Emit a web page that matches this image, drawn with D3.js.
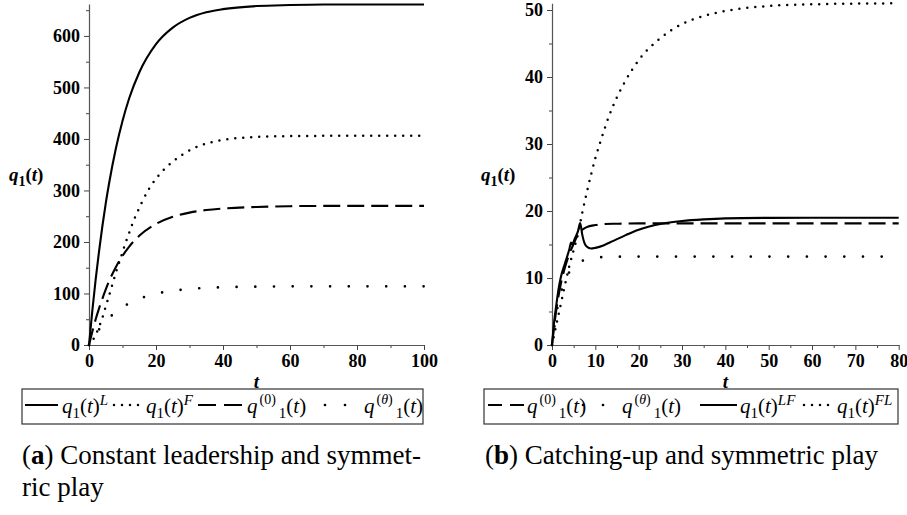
<!DOCTYPE html>
<html>
<head>
<meta charset="utf-8">
<script src="https://cdn.jsdelivr.net/npm/d3@7"></script>
<style>
  html, body { margin: 0; padding: 0; background: #fff; }
  svg { display: block; }
</style>
</head>
<body>
<svg id="chart" width="907" height="515"></svg>
<script>
// ---------- Panel (a) data: constant leadership and symmetric play ----------
const tA = [0,1,2,3,4,5,6,8,10,12,15,20,25,30,35,40,50,60,70,80,90,100];
const qL_A = [0,67,128,182,231,275,314,381,435,479,529,584,616,635,646,652,658,660,661,661,661,661];
const q0_A = [0,26,50,71,90,108,124,151,173,191,212,235,249,257,262,265,268,269.5,270,270,270,270];
const qTh_A = [0,11.2,21,30.3,38.5,45.9,52.6,64,73.3,81,89.7,99.5,105.3,108.8,110.9,112.2,113.3,113.8,114,114,114,114];
const tA_F = [0,1,2,3,4,5,6,7,8,9,10,11,12,13,14,15,16,18,20,22,25,28,31,35,40,45,50,60,70,80,100];
const qF_A = [0,8,20,35,53,75,96,118,140,160,180,200,218,236,252,266,280,304,323,338,356,370,381,391,398,402,404,405.5,406,406,406];
const xTicksA = [0,20,40,60,80,100];
const yTicksA = [0,100,200,300,400,500,600];

// ---------- Panel (b) data: catching-up and symmetric play ----------
const tB_0 = [0,0.5,1,1.5,2,3,4,5,6,7,8,10,12,15,20,30,40,60,80];
const q0_B = [0,2.8,5.3,7.3,9.0,11.6,13.6,15.1,16.5,17.2,17.6,17.9,18.05,18.1,18.15,18.15,18.15,18.15,18.15];
const tB_Th = [0,1,2,3,4,5,6,8,10,12,15,20,40,80];
const qTh_B = [0,4.66,7.67,9.62,10.88,11.7,12.23,12.79,13.03,13.13,13.18,13.2,13.2,13.2];
const tB_LF = [0,0.5,1,1.5,2,3,4,4.4,4.7,5.2,6,6.5,7,7.5,8,9,10,12,14,17,20,25,30,35,40,50,60,80];
const qLF_B = [0,3.5,6.0,8.3,10.0,12.2,14.3,15.3,15.0,15.8,17.0,18.2,16.4,15.2,14.7,14.4,14.5,14.9,15.5,16.4,17.2,18.05,18.5,18.75,18.9,18.98,19.0,19.0];
const tB_FL = [0,0.5,1,2,3,4,5,6,6.5,7,8,9,10,11,12,13,15,17,20,25,30,35,40,50,60,70,80];
const qFL_B = [0,1.5,3.0,6.0,9.0,11.8,14.2,16.6,18.2,19.8,22.7,25.4,27.9,30.0,32.0,33.9,37.0,39.5,42.5,45.8,47.9,49.1,49.85,50.6,50.85,50.95,51.0];
const xTicksB = [0,10,20,30,40,50,60,70,80];
const yTicksB = [0,10,20,30,40,50];

// ---------- styles ----------
const STY = {
  solid:  { dash: null,      width: 2.1, cap: "butt" },
  dotted: { dash: "0,8",     width: 2.5, cap: "round" },
  dashed: { dash: "17,7",    width: 2.1, cap: "butt" },
  sparse: { dash: "0,18.7",  width: 2.7, cap: "round" }
};

const svg = d3.select("#chart");
const SERIF = "'Liberation Serif','Times New Roman',serif";

function panel(cfg) {
  const x = d3.scaleLinear().domain(cfg.xDomain).range(cfg.xRange);
  const y = d3.scaleLinear().domain(cfg.yDomain).range(cfg.yRange);
  const g = svg.append("g");

  // minor ticks
  g.append("g").attr("transform", `translate(0,${cfg.yRange[0]})`)
    .call(d3.axisBottom(x).tickValues(cfg.xMinor).tickSize(3).tickFormat("").tickSizeOuter(0))
    .call(a => a.select(".domain").remove())
    .call(a => a.selectAll("line").attr("stroke", "#444"));
  g.append("g").attr("transform", `translate(${cfg.xRange[0]},0)`)
    .call(d3.axisLeft(y).tickValues(cfg.yMinor).tickSize(3).tickFormat("").tickSizeOuter(0))
    .call(a => a.select(".domain").remove())
    .call(a => a.selectAll("line").attr("stroke", "#444"));

  // major axes
  const ax = g.append("g").attr("transform", `translate(0,${cfg.yRange[0]})`)
    .call(d3.axisBottom(x).tickValues(cfg.xTicks).tickSize(5).tickSizeOuter(0).tickPadding(4));
  const ay = g.append("g").attr("transform", `translate(${cfg.xRange[0]},0)`)
    .call(d3.axisLeft(y).tickValues(cfg.yTicks).tickSize(5).tickSizeOuter(0).tickPadding(4));
  [ax, ay].forEach(a => {
    a.attr("font-family", SERIF);
    a.select(".domain").attr("stroke", "#555").attr("stroke-width", 1.2);
    a.selectAll(".tick line").attr("stroke", "#444");
    a.selectAll("text").attr("font-family", SERIF).attr("font-weight", "bold")
      .attr("font-size", 18).attr("fill", "#000");
  });

  // lines
  cfg.series.forEach(s => {
    const line = d3.line().x((d, i) => x(s.t[i])).y(d => y(d)).curve(d3.curveMonotoneX);
    const st = STY[s.style];
    g.append("path").attr("d", line(s.v)).attr("fill", "none")
      .attr("stroke", "#000").attr("stroke-width", st.width)
      .attr("stroke-linecap", st.cap).attr("stroke-linejoin", "round")
      .attr("stroke-dasharray", st.dash);
  });

  // y label q1(t)
  const yl = g.append("text").attr("x", cfg.yLabelX).attr("y", 181)
    .attr("font-family", SERIF).attr("font-weight", "bold").attr("font-size", 19);
  yl.append("tspan").attr("font-style", "italic").text("q");
  yl.append("tspan").attr("font-size", 14).attr("dy", 5).text("1");
  yl.append("tspan").attr("dy", -5).text("(");
  yl.append("tspan").attr("font-style", "italic").text("t");
  yl.append("tspan").text(")");

  // x label t
  g.append("text").attr("x", (cfg.xRange[0] + cfg.xRange[1]) / 2).attr("y", 388)
    .attr("text-anchor", "middle").attr("font-family", SERIF).attr("font-weight", "bold")
    .attr("font-style", "italic").attr("font-size", 19).text("t");

  // legend box
  g.append("rect").attr("x", cfg.legend.x0).attr("y", 389)
    .attr("width", cfg.legend.x1 - cfg.legend.x0).attr("height", 35)
    .attr("fill", "none").attr("stroke", "#333").attr("stroke-width", 1.2);
  cfg.legend.items.forEach(it => {
    const st = STY[it.style];
    g.append("line").attr("x1", it.sx0).attr("x2", it.sx1).attr("y1", 405).attr("y2", 405)
      .attr("stroke", "#000").attr("stroke-width", st.width)
      .attr("stroke-linecap", st.cap).attr("stroke-dasharray", it.dash || st.dash);
    legendLabel(g, it.tx, it.label);
  });
}

function legendLabel(g, x, label) {
  const tx = g.append("text").attr("x", x).attr("y", 413)
    .attr("font-family", SERIF).attr("font-size", 21).attr("fill", "#000");
  if (label.kind === "q1") {
    tx.append("tspan").attr("font-style", "italic").text("q");
    tx.append("tspan").attr("font-size", 15).attr("dy", 5).text("1");
    tx.append("tspan").attr("dy", -5).text("(");
    tx.append("tspan").attr("font-style", "italic").text("t");
    tx.append("tspan").text(")");
    tx.append("tspan").attr("font-style", "italic").attr("font-size", 15).attr("dy", -8).text(label.sup);
  } else {
    tx.append("tspan").attr("font-style", "italic").text("q");
    tx.append("tspan").attr("font-size", 14).attr("dy", -9).attr("dx", 2).text("(");
    tx.append("tspan").attr("font-size", 14).attr("font-style", label.supItalic ? "italic" : "normal").text(label.sup);
    tx.append("tspan").attr("font-size", 14).text(")");
    tx.append("tspan").attr("font-size", 15).attr("dy", 14).attr("dx", 3).text("1");
    tx.append("tspan").attr("dy", -5).text("(");
    tx.append("tspan").attr("font-style", "italic").text("t");
    tx.append("tspan").text(")");
  }
}

// ---------- panel (a) ----------
panel({
  xDomain: [0, 100], xRange: [89, 424],
  yDomain: [0, 662], yRange: [345, 4],
  xTicks: xTicksA, yTicks: yTicksA,
  xMinor: [10,30,50,70,90], yMinor: [50,150,250,350,450,550,650],
  yLabelX: 9,
  series: [
    { t: tA, v: qL_A, style: "solid" },
    { t: tA_F, v: qF_A, style: "dotted" },
    { t: tA, v: q0_A, style: "dashed" },
    { t: tA, v: qTh_A, style: "sparse" }
  ],
  legend: {
    x0: 22, x1: 423,
    items: [
      { style: "solid",  sx0: 25,  sx1: 58,  tx: 62,  label: { kind: "q1", sup: "L" } },
      { style: "dotted", sx0: 114, sx1: 141, tx: 146, label: { kind: "q1", sup: "F" } },
      { style: "dashed", sx0: 198, sx1: 243, tx: 247, dash: "18,8", label: { kind: "q", sup: "0" } },
      { style: "sparse", sx0: 325, sx1: 346, tx: 364, dash: "0,20", label: { kind: "q", sup: "θ", supItalic: true } }
    ]
  }
});

// ---------- panel (b) ----------
panel({
  xDomain: [0, 80], xRange: [552, 898.7],
  yDomain: [0, 51], yRange: [345, 3.3],
  xTicks: xTicksB, yTicks: yTicksB,
  xMinor: [5,15,25,35,45,55,65,75], yMinor: [5,15,25,35,45],
  yLabelX: 481,
  series: [
    { t: tB_0, v: q0_B, style: "dashed" },
    { t: tB_Th, v: qTh_B, style: "sparse" },
    { t: tB_LF, v: qLF_B, style: "solid" },
    { t: tB_FL, v: qFL_B, style: "dotted" }
  ],
  legend: {
    x0: 484, x1: 898,
    items: [
      { style: "dashed", sx0: 488, sx1: 524, tx: 527, dash: "14,8", label: { kind: "q", sup: "0" } },
      { style: "sparse", sx0: 583, sx1: 604, tx: 622, dash: "0,20", label: { kind: "q", sup: "θ", supItalic: true } },
      { style: "solid",  sx0: 700, sx1: 737, tx: 740, label: { kind: "q1", sup: "LF" } },
      { style: "dotted", sx0: 804, sx1: 833, tx: 837, label: { kind: "q1", sup: "FL" } }
    ]
  }
});

// ---------- captions ----------
function caption(x, y, letter, rest) {
  const t = svg.append("text").attr("x", x).attr("y", y)
    .attr("font-family", SERIF).attr("font-size", 27).attr("fill", "#000");
  t.append("tspan").text("(");
  t.append("tspan").attr("font-weight", "bold").text(letter);
  t.append("tspan").text(")");
  t.append("tspan").text(" " + rest);
}
caption(22, 464, "a", "Constant leadership and symmet-");
svg.append("text").attr("x", 22).attr("y", 496).attr("font-family", SERIF)
  .attr("font-size", 27).attr("fill", "#000").text("ric play");
caption(485, 464, "b", "Catching-up and symmetric play");
</script>
</body>
</html>
